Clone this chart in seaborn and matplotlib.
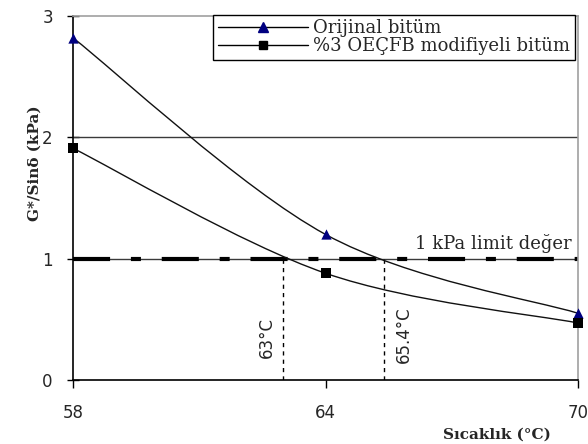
import numpy as np
import pandas as pd
import matplotlib
matplotlib.use("Agg")
import matplotlib.pyplot as plt
import seaborn as sns
from matplotlib.path import Path
from matplotlib.patches import PathPatch
from matplotlib.lines import Line2D

# ---- data ----
temps = [58, 64, 70]
orijinal = [2.82, 1.20, 0.55]
modifiyeli = [1.91, 0.88, 0.47]
series_names = ["Orijinal bitüm", "%3 OEÇFB modifiyeli bitüm"]
limit_value = 1.0
limit_label = "1 kPa limit değer"
cross_temps = [63.0, 65.4]
cross_labels = ["63°C", "65.4°C"]
x_ticks = [58, 64, 70]
y_ticks = [0, 1, 2, 3]

sns.set_theme(style="white")
plt.rcParams["font.family"] = ["DejaVu Sans"]

fig = plt.figure(figsize=(5.88, 4.44), dpi=100)
ax = fig.add_axes([73 / 588, 64 / 444, 505 / 588, 364 / 444])
ax.set_facecolor("white")


def smooth_path(xs, ys):
    pts = np.column_stack([xs, ys]).astype(float)
    n = len(pts)
    verts = [pts[0]]
    codes = [Path.MOVETO]
    for i in range(n - 1):
        p_prev = pts[i - 1] if i > 0 else pts[i]
        p0, p1 = pts[i], pts[i + 1]
        p_next = pts[i + 2] if i + 2 < n else pts[i + 1]
        c1 = p0 + (p1 - p_prev) / 6.0
        c2 = p1 - (p_next - p0) / 6.0
        verts += [c1, c2, p1]
        codes += [Path.CURVE4] * 3
    return Path(verts, codes)


df = pd.DataFrame({
    "temp": temps * 2,
    "value": orijinal + modifiyeli,
    "series": [series_names[0]] * 3 + [series_names[1]] * 3,
})

# grid lines
for yv in [1, 2]:
    ax.axhline(yv, color="#3a3a3a", lw=1.0, zorder=1)

# limit line (dash - dot pattern)
ax.axhline(limit_value, color="black", lw=3.0, dashes=(8.9, 5.0, 2.4, 5.0), zorder=2)

# smooth curves
for vals in [orijinal, modifiyeli]:
    patch = PathPatch(smooth_path(temps, vals), facecolor="none", edgecolor="#111111",
                      lw=1.0, zorder=3)
    ax.add_patch(patch)

# markers
sns.scatterplot(data=df[df.series == series_names[0]], x="temp", y="value", marker="^",
                s=55, color="#000080", edgecolor="#000080", linewidth=0, ax=ax,
                zorder=5, legend=False, clip_on=False)
sns.scatterplot(data=df[df.series == series_names[1]], x="temp", y="value", marker="s",
                s=45, color="black", edgecolor="black", linewidth=0, ax=ax,
                zorder=5, legend=False, clip_on=False)

# vertical dotted lines and labels
for xv in cross_temps:
    ax.plot([xv, xv], [0, limit_value], color="black", lw=1.0, dashes=(3, 3), zorder=2)
ax.text(cross_temps[0] - 0.17, 0.35, cross_labels[0], rotation=90, ha="right", va="center",
        fontsize=12, family="DejaVu Sans")
ax.text(cross_temps[1] + 0.25, 0.37, cross_labels[1], rotation=90, ha="left", va="center",
        fontsize=12, family="DejaVu Sans")

ax.text(69.85, 1.05, limit_label, ha="right", va="bottom", fontsize=13, family="DejaVu Serif")

ax.set_xlim(58, 70)
ax.set_ylim(0, 3)
ax.set_xticks(x_ticks)
ax.set_yticks(y_ticks)
ax.set_xticklabels([str(t) for t in x_ticks])
ax.set_yticklabels([str(t) for t in y_ticks])
ax.tick_params(axis="y", direction="inout", length=9, width=1, color="black",
               labelsize=12, pad=10, left=True)
ax.tick_params(axis="x", direction="out", length=6, width=1, color="black",
               labelsize=12, pad=11, bottom=True)

for side in ["left", "bottom"]:
    ax.spines[side].set_color("black")
    ax.spines[side].set_linewidth(1.2)
for side in ["top", "right"]:
    ax.spines[side].set_color("#a0a0a0")
    ax.spines[side].set_linewidth(1.2)

ax.set_ylabel("G*/Sinδ (kPa)", fontsize=11, fontweight="bold", family="DejaVu Serif")
ax.yaxis.set_label_coords(-0.063, 0.595)
ax.set_xlabel("Sıcaklık (°C)", fontsize=11, fontweight="bold", family="DejaVu Serif")
ax.xaxis.set_label_coords(0.84, -0.13)

handles = [
    Line2D([], [], color="black", lw=1.0, marker="^", markersize=7, markerfacecolor="#000080",
           markeredgecolor="#000080"),
    Line2D([], [], color="black", lw=1.0, marker="s", markersize=6, markerfacecolor="black",
           markeredgecolor="black"),
]
leg = ax.legend(handles, series_names, loc="upper right", bbox_to_anchor=(0.994, 1.003),
                prop={"family": "DejaVu Serif", "size": 13}, frameon=True, fancybox=False,
                edgecolor="black", framealpha=1, handlelength=5.0, handletextpad=0.3,
                labelspacing=0.0, borderpad=0.25, borderaxespad=0.0)
leg.get_frame().set_linewidth(1.0)
leg.set_zorder(10)

fig.savefig("out.png", dpi=100, facecolor="white")
